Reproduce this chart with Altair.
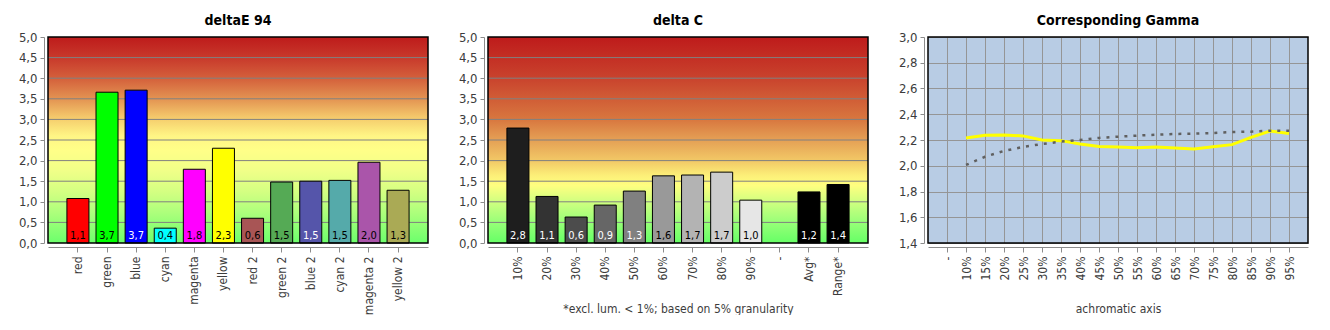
import altair as alt
import pandas as pd

W, H = 380, 206

# ---------------- deltaE 94 ----------------
de_cats = ["red", "green", "blue", "cyan", "magenta", "yellow",
           "red 2", "green 2", "blue 2", "cyan 2", "magenta 2", "yellow 2"]
de_vals = [1.08, 3.66, 3.71, 0.36, 1.79, 2.30, 0.60, 1.48, 1.50, 1.52, 1.96, 1.28]
de_labels = ["1,1", "3,7", "3,7", "0,4", "1,8", "2,3", "0,6", "1,5", "1,5", "1,5", "2,0", "1,3"]
de_colors = ["#FF0000", "#00FF00", "#0000FF", "#00FFFF", "#FF00FF", "#FFFF00",
             "#A85555", "#55AA55", "#5555AA", "#55AAAA", "#AA55AA", "#AAAA55"]
de_text_colors = ["black", "black", "white", "black", "black", "black",
                  "black", "black", "white", "black", "black", "black"]

# ---------------- delta C ----------------
dc_cats = ["10%", "20%", "30%", "40%", "50%", "60%", "70%", "80%", "90%", "-", "Avg*", "Range*"]
dc_vals = [2.79, 1.13, 0.63, 0.92, 1.26, 1.63, 1.65, 1.72, 1.04, None, 1.24, 1.42]
dc_labels = ["2,8", "1,1", "0,6", "0,9", "1,3", "1,6", "1,7", "1,7", "1,0", "", "1,2", "1,4"]
dc_colors = ["#1E1E1E", "#333333", "#4C4C4C", "#666666", "#808080", "#999999",
             "#B3B3B3", "#CCCCCC", "#E6E6E6", "#000000", "#000000", "#000000"]
dc_text_colors = ["white", "white", "white", "white", "white", "black",
                  "black", "black", "black", "white", "white", "white"]

bar_ticks = [0.0, 0.5, 1.0, 1.5, 2.0, 2.5, 3.0, 3.5, 4.0, 4.5, 5.0]
bar_grid = [0.5, 1.0, 1.5, 2.0, 2.5, 3.0, 3.5, 4.0, 4.5]

de_stops = [(0.0, "#BE1B1B"), (0.1, "#C8392B"), (0.2, "#D4603B"), (0.3, "#E39352"),
            (0.4, "#F6CF6E"), (0.48, "#FFF585"), (0.55, "#FFFF88"), (0.65, "#F0FF88"),
            (0.75, "#D4FF82"), (0.85, "#AEFF7C"), (1.0, "#6CFF6C")]
dc_stops = [(0.0, "#BE1B1B"), (0.2, "#C9432D"), (0.4, "#D8773F"), (0.5, "#E5A055"),
            (0.6, "#F2C866"), (0.67, "#FCEE78"), (0.72, "#FFFF80"), (0.8, "#D0FF80"),
            (0.9, "#98FF78"), (1.0, "#66FF66")]

# ---------------- Corresponding Gamma ----------------
g_cats = ["-", "10%", "15%", "20%", "25%", "30%", "35%", "40%", "45%", "50%",
          "55%", "60%", "65%", "70%", "75%", "80%", "85%", "90%", "95%"]
g_points = g_cats[1:]
g_measured = [2.216, 2.236, 2.239, 2.232, 2.200, 2.195, 2.169, 2.150, 2.146,
              2.140, 2.146, 2.138, 2.130, 2.148, 2.164, 2.220, 2.270, 2.250]
g_target = [2.006, 2.070, 2.115, 2.146, 2.169, 2.187, 2.200, 2.216, 2.226,
            2.234, 2.241, 2.247, 2.249, 2.254, 2.262, 2.265, 2.272, 2.272]
g_ticks = [1.4, 1.6, 1.8, 2.0, 2.2, 2.4, 2.6, 2.8, 3.0]

FONT = "DejaVu Sans Condensed, DejaVu Sans"
comma_expr = "replace(format(datum.value, '.1f'), '.', ',')"


def y_axis(values, grid=False):
    return alt.Axis(values=values, labelExpr=comma_expr, grid=grid, gridColor="#959595",
                    gridWidth=1, title=None,
                    domainColor="#8C8C8C", tickColor="#8C8C8C", tickSize=4,
                    offset=4, labelPadding=3, labelFont=FONT, labelFontSize=13,
                    labelColor="#3C3C3C")


def x_axis(title=None, grid=False):
    if title:
        kw = dict(title=title, titleFont=FONT, titleFontSize=12, titleFontWeight="normal",
                  titleColor="#3C3C3C", titleY=65, titleBaseline="alphabetic")
    else:
        kw = dict(title=None)
    return alt.Axis(labelAngle=-90, labelFont=FONT, labelFontSize=12, labelColor="#3C3C3C",
                    domainColor="#8C8C8C", tickColor="#8C8C8C", tickSize=5, offset=4,
                    labelPadding=4, grid=grid, gridColor="#959595", gridWidth=1, **kw)


def title(txt):
    return alt.Title(txt, font=FONT, fontSize=14, fontWeight="bold", color="black", offset=3)


def bar_panel(name, cats, vals, labels, colors, tcolors, stops, xtitle=None):
    df = pd.DataFrame({"cat": cats, "v": vals, "lab": labels, "col": colors, "tc": tcolors})
    df = df[df["v"].notna()]
    xs = alt.Scale(domain=cats, paddingInner=0.244, paddingOuter=0.65)
    ys = alt.Scale(domain=[0, 5], nice=False, zero=True)
    grad = alt.Gradient(gradient="linear", x1=0, x2=0, y1=0, y2=1,
                        stops=[alt.GradientStop(offset=o, color=c) for o, c in stops])
    bg = alt.Chart(pd.DataFrame({"a": [0]})).mark_rect(color=grad).encode(
        x=alt.value(0), x2=alt.value(W), y=alt.value(0), y2=alt.value(H))
    grid = alt.Chart(pd.DataFrame({"t": bar_grid})).mark_rule(color="#808080", strokeWidth=1).encode(
        y=alt.Y("t:Q", scale=ys, axis=y_axis(bar_ticks)))
    bars = alt.Chart(df).mark_bar(stroke="black", strokeWidth=1).encode(
        x=alt.X("cat:N", scale=xs, sort=cats, axis=x_axis(xtitle)),
        y=alt.Y("v:Q", scale=ys, axis=y_axis(bar_ticks)),
        fill=alt.Fill("col:N", scale=None))
    txt = alt.Chart(df).mark_text(font=FONT, fontSize=11, baseline="middle").encode(
        x=alt.X("cat:N", scale=xs, sort=cats, axis=x_axis(xtitle)),
        y=alt.value(H - 7.5),
        text="lab:N",
        color=alt.Color("tc:N", scale=None))
    border = alt.Chart(pd.DataFrame({"a": [0]})).mark_rect(
        fillOpacity=0, stroke="black", strokeWidth=1.5).encode(
        x=alt.value(0), x2=alt.value(W), y=alt.value(0), y2=alt.value(H))
    return alt.layer(bg, grid, bars, txt, border).properties(
        width=W, height=H, title=title(name))


p1 = bar_panel("deltaE 94", de_cats, de_vals, de_labels, de_colors, de_text_colors, de_stops)
p2 = bar_panel("delta C", dc_cats, dc_vals, dc_labels, dc_colors, dc_text_colors, dc_stops,
               xtitle="*excl. lum. < 1%; based on 5% granularity")

gdf = pd.DataFrame({
    "cat": g_points * 2,
    "v": g_measured + g_target,
    "s": ["measured"] * len(g_points) + ["target"] * len(g_points),
})
gxs = alt.Scale(domain=g_cats, type="point", padding=1.44)
gys = alt.Scale(domain=[1.4, 3.0], nice=False, zero=False)
gy_axis = y_axis(g_ticks, grid=True)
gx_axis = x_axis("achromatic axis", grid=True)

yellow = alt.Chart(gdf[gdf["s"] == "measured"]).mark_line(color="#FFFF00", strokeWidth=3).encode(
    x=alt.X("cat:N", scale=gxs, sort=g_cats, axis=gx_axis),
    y=alt.Y("v:Q", scale=gys, axis=gy_axis))
grey = alt.Chart(gdf[gdf["s"] == "target"]).mark_line(
    color="#606060", strokeWidth=2.5, strokeDash=[3, 6]).encode(
    x=alt.X("cat:N", scale=gxs, sort=g_cats, axis=gx_axis),
    y=alt.Y("v:Q", scale=gys, axis=gy_axis))
border3 = alt.Chart(pd.DataFrame({"a": [0]})).mark_rect(
    fillOpacity=0, stroke="black", strokeWidth=1.5).encode(
    x=alt.value(0), x2=alt.value(W), y=alt.value(0), y2=alt.value(H))
p3 = alt.layer(yellow, grey, border3).properties(
    width=W, height=H, title=title("Corresponding Gamma"),
    view=alt.ViewBackground(fill="#B8CCE4", stroke=None))

chart = alt.hconcat(p1, p2, p3, spacing=60, bounds="flush").properties(
    padding={"left": 18, "top": 14, "right": 0, "bottom": 0},
    background="white",
).configure_view(stroke=None).configure_axis(labelOverlap=False)

chart.save("out.html", embed_options={"renderer": "svg", "actions": False})
